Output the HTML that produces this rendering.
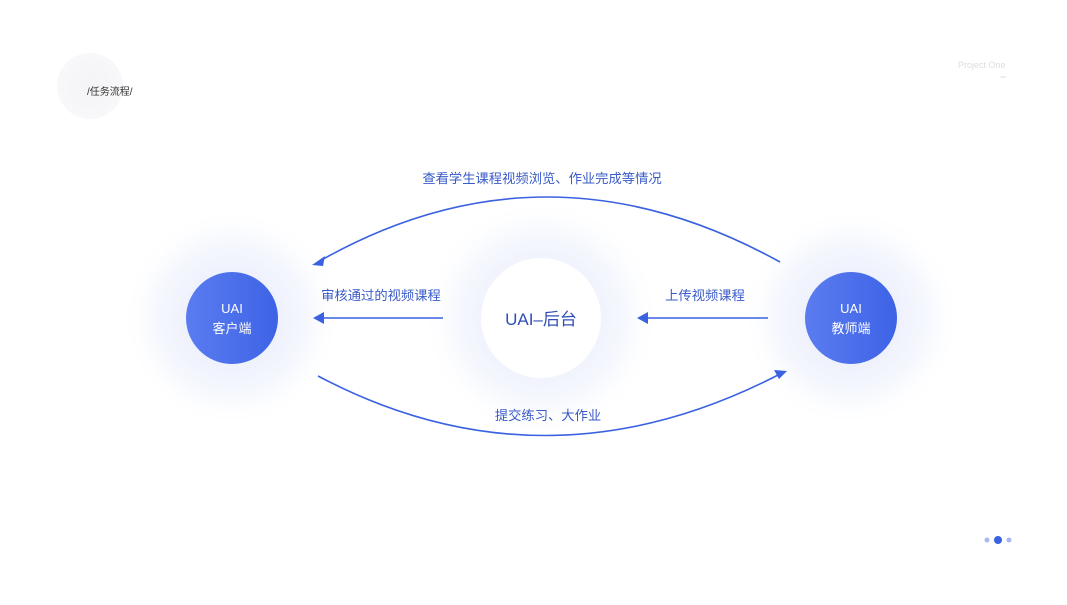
<!DOCTYPE html>
<html><head><meta charset="utf-8"><style>
body{margin:0;width:1067px;height:600px;background:#fff;overflow:hidden;font-family:"Liberation Sans","Noto Sans CJK SC",sans-serif}
</style></head><body>
<svg width="1067" height="600" viewBox="0 0 1067 600" xmlns="http://www.w3.org/2000/svg" font-family="Liberation Sans, Noto Sans CJK SC, sans-serif">
<defs>
<radialGradient id="glow"><stop offset="0.4" stop-color="#eef1fc"/><stop offset="0.7" stop-color="#f6f8fe"/><stop offset="1" stop-color="#fff" stop-opacity="0"/></radialGradient>
<radialGradient id="g2"><stop offset="0" stop-color="#f4f4f6"/><stop offset="1" stop-color="#f8f8fa"/></radialGradient>
<linearGradient id="blue" x1="0" y1="0" x2="1" y2="0"><stop offset="0" stop-color="#5b7cf0"/><stop offset="1" stop-color="#3d63e6"/></linearGradient>
</defs>
<circle cx="90" cy="86" r="33" fill="url(#g2)"/>
<text x="87" y="95" font-size="10" fill="#333">/任务流程/</text>
<text x="958" y="68" font-size="9" fill="#ddd">Project One</text>
<line x1="1000" y1="77" x2="1006" y2="77" stroke="#ddd"/>
<circle cx="232" cy="318" r="110" fill="url(#glow)"/>
<circle cx="851" cy="318" r="110" fill="url(#glow)"/>
<circle cx="541" cy="318" r="120" fill="url(#glow)"/>
<circle cx="232" cy="318" r="46" fill="url(#blue)"/>
<circle cx="851" cy="318" r="46" fill="url(#blue)"/>
<circle cx="541" cy="318" r="60" fill="#fff"/>
<text x="232" y="313" font-size="13" fill="#fff" text-anchor="middle">UAI</text>
<text x="232" y="333" font-size="13" fill="#fff" text-anchor="middle">客户端</text>
<text x="851" y="313" font-size="13" fill="#fff" text-anchor="middle">UAI</text>
<text x="851" y="333" font-size="13" fill="#fff" text-anchor="middle">教师端</text>
<text x="541" y="325" font-size="17" fill="#2f4fb8" text-anchor="middle">UAI–后台</text>
<g stroke="#3a62e0" stroke-width="1.6" fill="none">
<path d="M780 262 Q545 132 318 262"/>
<path d="M318 376 Q545 496 780 374"/>
<line x1="443" y1="318" x2="322" y2="318"/>
<line x1="768" y1="318" x2="646" y2="318"/>
</g>
<g fill="#3a62e0">
<polygon points="312,265 325,256 323,266"/>
<polygon points="787,371 774,370 779,379"/>
<polygon points="313,318 324,312 324,324"/>
<polygon points="637,318 648,312 648,324"/>
</g>
<g font-size="13.3" fill="#3a5bc7" text-anchor="middle">
<text x="542" y="183">查看学生课程视频浏览、作业完成等情况</text>
<text x="381" y="300">审核通过的视频课程</text>
<text x="705" y="300">上传视频课程</text>
<text x="548" y="420">提交练习、大作业</text>
</g>
<circle cx="987" cy="540" r="2.5" fill="#a9b9f0"/>
<circle cx="998" cy="540" r="4" fill="#3a62e0"/>
<circle cx="1009" cy="540" r="2.5" fill="#a9b9f0"/>
</svg>
</body></html>
